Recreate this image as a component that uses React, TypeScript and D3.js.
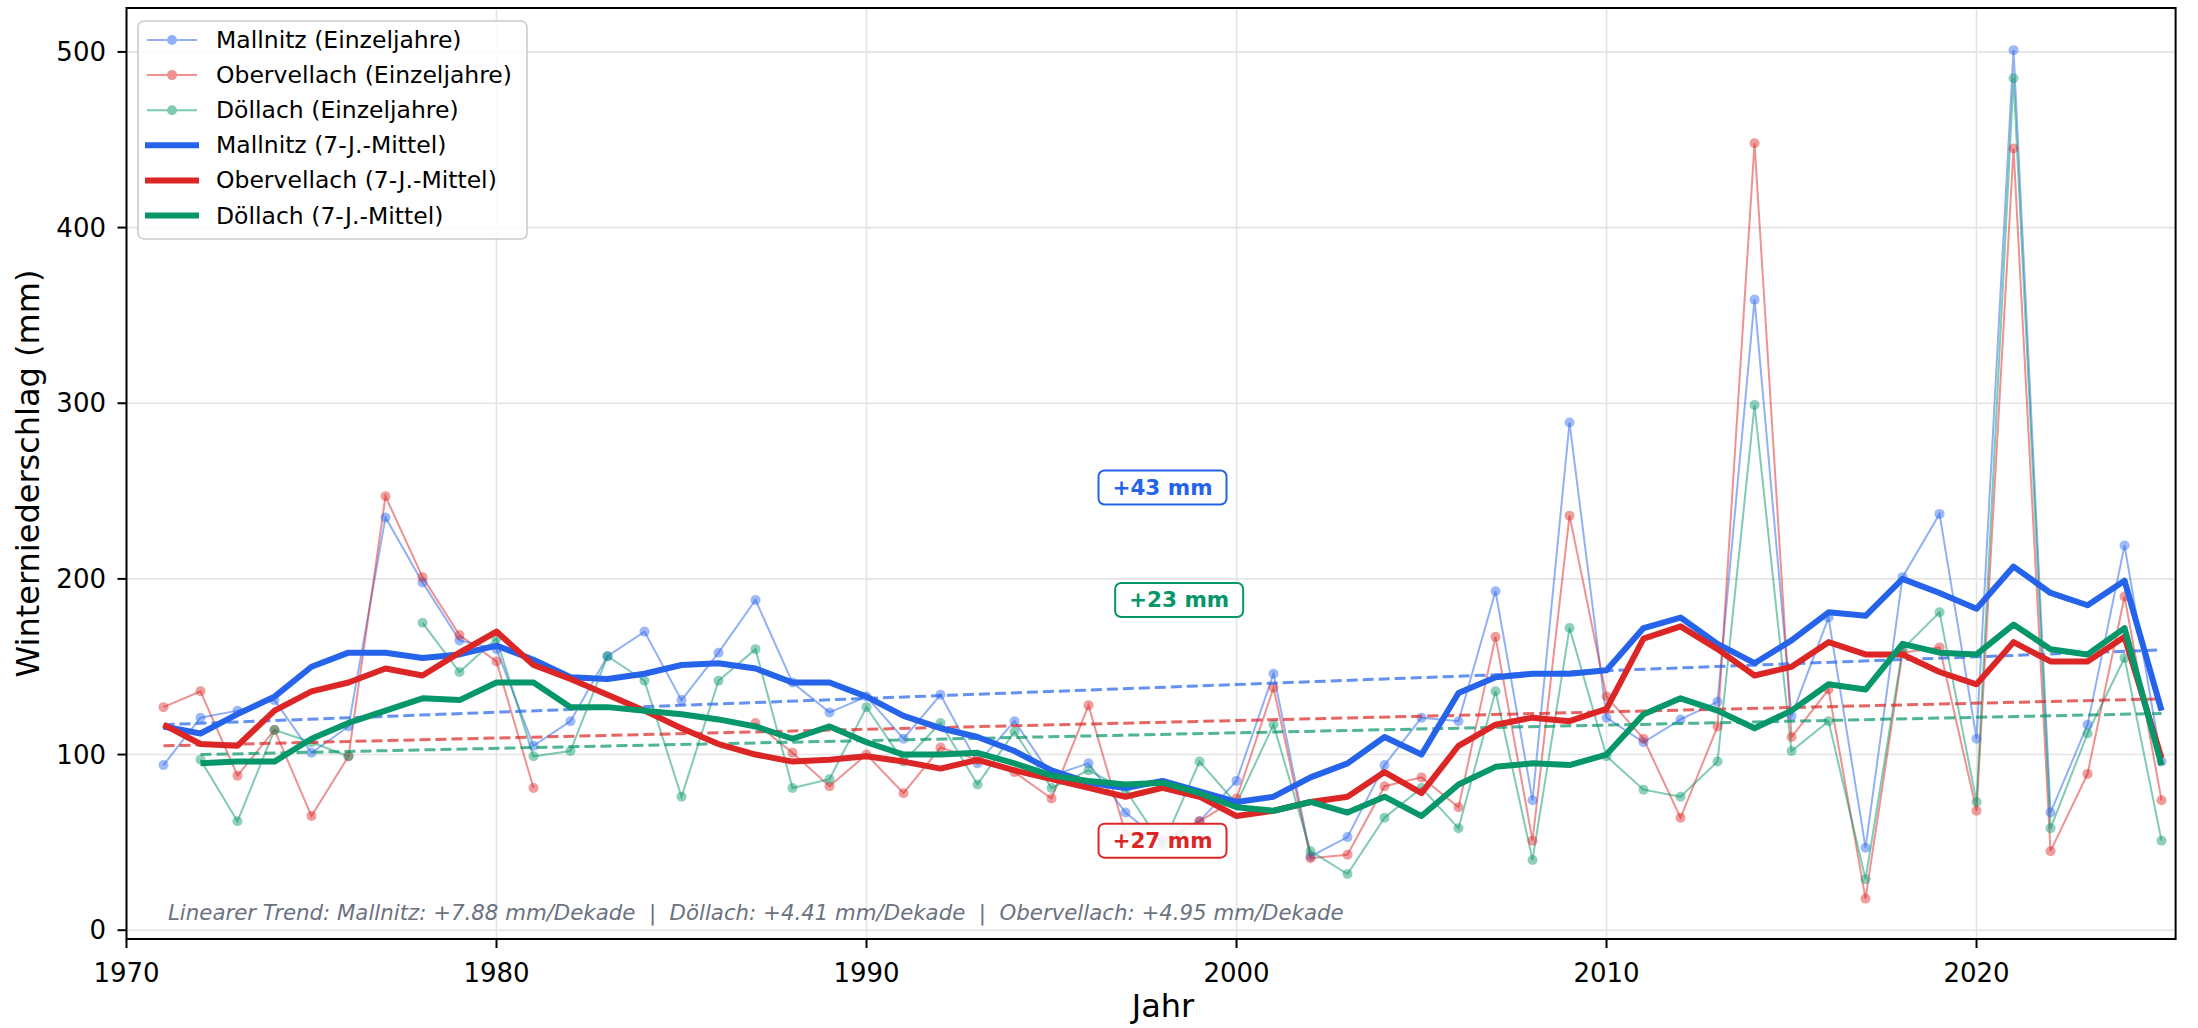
import React from 'react';
import * as d3 from 'd3';

const W = 2198;
const H = 1028;

// years 1971..2025
const years = d3.range(1971, 2026);

const mallnitz = [
  94, 121, 125, 131, 101, 116, 235, 198, 165, 160,
  105, 119, 156, 170, 131, 158, 188, 141, 124, 133,
  109, 134, 95, 119, 88, 95, 67, 50, 62, 85,
  146, 42, 53, 94, 121, 119, 193, 74, 289, 121,
  107, 120, 130, 359, 122, 178, 47, 201, 237, 109,
  501, 67, 117, 219, 96,
];

const obervellach = [
  127, 136, 88, 114, 65, 99, 247, 201, 168, 153,
  81, null, null, null, null, null, 118, 101, 82, 100,
  78, 104, 97, 90, 75, 128, 55, 52, 62, 75,
  138, 41, 43, 82, 87, 70, 167, 51, 236, 133,
  109, 64, 116, 448, 110, 137, 18, 158, 161, 68,
  445, 45, 89, 190, 74,
];

const doellach = [
  null, 97, 62, 114, 107, 99, null, 175, 147, 166,
  99, 102, 156, 142, 76, 142, 160, 81, 86, 127,
  96, 118, 83, 113, 81, 91, 80, 48, 96, 72,
  117, 45, 32, 64, 81, 58, 136, 40, 172, 99,
  80, 76, 96, 299, 102, 119, 29, 160, 181, 73,
  485, 58, 112, 155, 51,
];

const mallnitzMA = [
  116, 112, 123, 133, 150, 158, 158, 155, 157, 162,
  154, 144, 143, 146, 151, 152, 149, 141, 141, 133,
  122, 115, 110, 102, 91, 84, 81, 85, 79, 73,
  76, 87, 95, 110, 100, 135, 144, 146, 146, 148,
  172, 178, 163, 152, 165, 181, 179, 200, 192, 183,
  207, 192, 185, 199, 125,
];

const obervellachMA = [
  117, 106, 105, 125, 136, 141, 149, 145, 158, 170,
  151, 143, 134, 125, 115, 106, 100, 96, 97, 99,
  96, 92, 97, 91, 86, 81, 76, 81, 76, 65,
  68, 73, 76, 90, 78, 105, 117, 121, 119, 126,
  166, 173, 160, 145, 150, 164, 157, 157, 147, 140,
  164, 153, 153, 167, 98,
];

const doellachMA = [
  null, 95, 96, 96, 109, 118, 125, 132, 131, 141,
  141, 127, 127, 125, 123, 120, 116, 109, 116, 107,
  100, 100, 101, 95, 88, 85, 83, 84, 78, 70,
  68, 73, 67, 76, 65, 83, 93, 95, 94, 100,
  123, 132, 125, 115, 125, 140, 137, 163, 158, 157,
  174, 160, 157, 172, 94,
];

// linear trend endpoints [startYear, startValue, endYear, endValue]
const trendMallnitz = [1971, 117, 2025, 159.6];
const trendObervellach = [1971, 105, 2025, 131.7];
const trendDoellach = [1972, 100, 2025, 123.4];

const xTicks = [1970, 1980, 1990, 2000, 2010, 2020];
const yTicks = [0, 100, 200, 300, 400, 500];

const BLUE = '#2563eb';
const RED = '#dc2626';
const GREEN = '#059669';

const annLabels = ['+43 mm', '+23 mm', '+27 mm'];
const annColors = [BLUE, GREEN, RED];
const annYears = [1998, 1998.45, 1998];
const annValues = [252, 188, 51];

const trendText =
  'Linearer Trend: Mallnitz: +7.88 mm/Dekade  |  Döllach: +4.41 mm/Dekade  |  Obervellach: +4.95 mm/Dekade';

const series = [
  { name: 'Mallnitz', color: BLUE, single: mallnitz, ma: mallnitzMA, trend: trendMallnitz },
  { name: 'Obervellach', color: RED, single: obervellach, ma: obervellachMA, trend: trendObervellach },
  { name: 'Döllach', color: GREEN, single: doellach, ma: doellachMA, trend: trendDoellach },
];

const FONT = 'DejaVu Sans, sans-serif';

const App = () => {
  const left = 126.5;
  const right = 2175.6;
  const top = 8;
  const bottom = 939;

  const x = d3.scaleLinear().domain([1970, 2025.38]).range([left, right]);
  const y = d3.scaleLinear().domain([-5, 525]).range([bottom, top]);

  const line = d3
    .line<number | null>()
    .defined((d) => d != null)
    .x((_, i) => x(years[i]))
    .y((d) => y(d as number));

  const legendItems = [
    ...series.map((s) => ({ label: `${s.name} (Einzeljahre)`, color: s.color, thin: true })),
    ...series.map((s) => ({ label: `${s.name} (7-J.-Mittel)`, color: s.color, thin: false })),
  ];

  return (
    <div style={{ position: 'fixed', left: 0, top: 0 }}>
      <svg width={W} height={H} style={{ display: 'block', background: '#fff' }} fontFamily={FONT}>
        <clipPath id="plot">
          <rect x={left} y={top} width={right - left} height={bottom - top} />
        </clipPath>

        {/* grid */}
        {xTicks.map((t) => (
          <line key={'gx' + t} x1={x(t)} x2={x(t)} y1={top} y2={bottom} stroke="#e4e4e4" strokeWidth={1.6} />
        ))}
        {yTicks.map((t) => (
          <line key={'gy' + t} x1={left} x2={right} y1={y(t)} y2={y(t)} stroke="#e4e4e4" strokeWidth={1.6} />
        ))}

        <g clipPath="url(#plot)">
          {/* single years */}
          {series.map((s) => (
            <g key={'s' + s.name} opacity={0.5}>
              <path d={line(s.single) || ''} fill="none" stroke={s.color} strokeWidth={2} />
            </g>
          ))}
          {series.map((s) => (
            <g key={'p' + s.name}>
              {s.single.map((v, i) =>
                v == null ? null : (
                  <circle key={i} cx={x(years[i])} cy={y(v)} r={5} fill={s.color} fillOpacity={0.45} />
                )
              )}
            </g>
          ))}

          {/* trends */}
          {series.map((s) => (
            <line
              key={'t' + s.name}
              x1={x(s.trend[0])}
              y1={y(s.trend[1])}
              x2={x(s.trend[2])}
              y2={y(s.trend[3])}
              stroke={s.color}
              strokeWidth={3}
              strokeDasharray="11 5"
              opacity={0.7}
            />
          ))}

          {/* moving averages */}
          {series.map((s) => (
            <path
              key={'m' + s.name}
              d={line(s.ma) || ''}
              fill="none"
              stroke={s.color}
              strokeWidth={6}
              strokeLinejoin="round"
            />
          ))}
        </g>

        {/* annotations */}
        {annLabels.map((lab, i) => {
          const c = annColors[i];
          const cx = x(annYears[i]);
          const cy = y(annValues[i]);
          return (
            <g key={'a' + i}>
              <rect x={cx - 64} y={cy - 17} width={128} height={34} rx={6} fill="#fff" fillOpacity={0.9} stroke={c} strokeWidth={2} />
              <text x={cx} y={cy} textAnchor="middle" dominantBaseline="central" fontSize={21.5} fontWeight="bold" fill={c}>
                {lab}
              </text>
            </g>
          );
        })}

        {/* trend text */}
        <text x={168} y={920} fontSize={21.3} fontStyle="italic" fill="#6b7280" style={{ whiteSpace: 'pre' }}>
          {trendText}
        </text>

        {/* frame */}
        <rect x={left} y={top} width={right - left} height={bottom - top} fill="none" stroke="#000" strokeWidth={2} />

        {/* x ticks */}
        {xTicks.map((t) => (
          <g key={'xt' + t}>
            <line x1={x(t)} x2={x(t)} y1={bottom} y2={bottom + 9} stroke="#000" strokeWidth={2} />
            <text x={x(t)} y={982} textAnchor="middle" fontSize={26}>
              {t}
            </text>
          </g>
        ))}
        {/* y ticks */}
        {yTicks.map((t) => (
          <g key={'yt' + t}>
            <line x1={left - 9} x2={left} y1={y(t)} y2={y(t)} stroke="#000" strokeWidth={2} />
            <text x={106} y={y(t)} textAnchor="end" dominantBaseline="central" fontSize={26}>
              {t}
            </text>
          </g>
        ))}

        <text x={1163} y={1017} textAnchor="middle" fontSize={32}>
          Jahr
        </text>
        <text transform={`translate(28, ${(top + bottom) / 2}) rotate(-90)`} textAnchor="middle" dominantBaseline="central" fontSize={32}>
          Winterniederschlag (mm)
        </text>

        {/* legend */}
        <g>
          <rect x={138} y={21} width={389} height={218} rx={6} fill="#fff" fillOpacity={0.85} stroke="#cccccc" strokeWidth={1.6} />
          {legendItems.map((it, i) => {
            const cy = 40 + i * 35.1;
            return (
              <g key={'l' + i}>
                {it.thin ? (
                  <g opacity={0.5}>
                    <line x1={147} x2={197} y1={cy} y2={cy} stroke={it.color} strokeWidth={2} />
                    <circle cx={172} cy={cy} r={5} fill={it.color} />
                  </g>
                ) : (
                  <line x1={145} x2={199} y1={cy} y2={cy} stroke={it.color} strokeWidth={6} />
                )}
                <text x={216} y={cy} dominantBaseline="central" fontSize={23.5}>
                  {it.label}
                </text>
              </g>
            );
          })}
        </g>
      </svg>
    </div>
  );
};

export default App;
